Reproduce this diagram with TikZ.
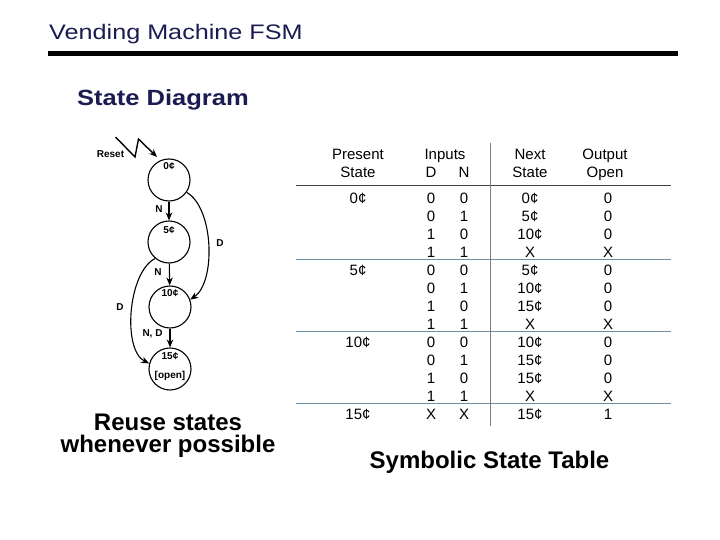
\documentclass[tikz,border=0pt]{standalone}
\usepackage{graphicx}
\usepackage{fontspec}
\setmainfont{Liberation Sans}
\usetikzlibrary{arrows.meta}
\definecolor{navy}{RGB}{28,28,82}
\definecolor{sepblue}{RGB}{105,145,165}
\begin{document}
\begin{tikzpicture}[x=1pt,y=-1pt,
  fsmstate/.style={circle, draw, line width=1.1pt, minimum size=42pt, inner sep=0pt},
  lbl/.style={font=\fontsize{10}{12}\selectfont\bfseries, inner sep=0pt},
  tr/.style={-{Stealth[length=8pt,width=6.5pt]}, line width=1.1pt},
  cell/.style={font=\fontsize{15}{18}\selectfont, anchor=base, inner sep=0pt},
  big/.style={font=\fontsize{24}{28}\selectfont\bfseries, anchor=base, inner sep=0pt}]
\useasboundingbox (0,0) rectangle (720,540);
\fill[white] (0,0) rectangle (720,540);

% title
\node[anchor=base west, inner sep=0pt, text=navy, font=\fontsize{21}{25}\selectfont] (title) at (49,40) {\scalebox{1.2}[1]{Vending Machine FSM}};
\fill[black] (48,51.5) rectangle (678,56.5);

\node[anchor=base west, inner sep=0pt, text=navy, font=\fontsize{22}{26}\selectfont\bfseries] (sd) at (77,106) {\scalebox{1.16}[1]{State Diagram}};

% state diagram
\node[fsmstate] (s0) at (169,180) {};
\node[fsmstate] (s5) at (169,242) {};
\node[fsmstate] (s10) at (170,307) {};
\node[fsmstate] (s15) at (170,369) {};
\node[lbl] (l0) at (169,166) {0¢};
\node[lbl] (l5) at (169,230) {5¢};
\node[lbl] (l10) at (170,293) {10¢};
\node[lbl] (l15) at (170,356) {15¢};
\node[lbl] (lopen) at (170,376) {[open]};

\draw[tr] (s0) -- (s5);
\draw[tr] (s5) -- (s10);
\draw[tr] (s10) -- (s15);
\draw[tr] (s0.-35) .. controls (214,208) and (216,282) .. (s10.20);
\draw[tr] (s5.-130) .. controls (128,272) and (122,350) .. (s15.165);

\node[lbl] (n1) at (159,209) {N};
\node[lbl] (n2) at (158,272) {N};
\node[lbl] (nd) at (152.5,334) {N, D};
\node[lbl] (d1) at (220,243) {D};
\node[lbl] (d2) at (120,307) {D};

\coordinate (rz) at (115.5,137);
\coordinate (rend) at (157,157);
\node[lbl] (reset) at (110.5,154) {Reset};
\draw[tr, line width=1.4pt] (rz) -- (135,157) -- (138.5,139) -- (rend);

\node[big] (r1) at (168,430) {Reuse states};
\node[big] (r2) at (168,452) {whenever possible};

% table
\draw[black!75, line width=0.9pt] (296,185.5) -- (671,185.5);
\foreach \yy in {259.5,331.5,403.5} \draw[sepblue, line width=1pt] (296,\yy) -- (671,\yy);
\draw[gray, line width=0.9pt] (490,143) -- (490,426);

\node[cell] (hp1) at (358,159.4) {Present};
\node[cell] (hp2) at (358,177.4) {State};
\node[cell] (hi1) at (445,159.4) {Inputs};
\node[cell] (hd) at (431,177.4) {D};
\node[cell] (hn) at (464,177.4) {N};
\node[cell] (hn1) at (530,159.4) {Next};
\node[cell] (hn2) at (530,177.4) {State};
\node[cell] (ho1) at (605,159.4) {Output};
\node[cell] (ho2) at (605,177.4) {Open};

\node[cell] (p0) at (358,203.4) {0¢};
\node[cell] (p5) at (358,275.4) {5¢};
\node[cell] (p10) at (358,347.4) {10¢};
\node[cell] (p15) at (358,419.4) {15¢};

\foreach \r/\d/\n/\s/\o in {0/0/0/0¢/0, 1/0/1/5¢/0, 2/1/0/10¢/0, 3/1/1/X/X,
  4/0/0/5¢/0, 5/0/1/10¢/0, 6/1/0/15¢/0, 7/1/1/X/X,
  8/0/0/10¢/0, 9/0/1/15¢/0, 10/1/0/15¢/0, 11/1/1/X/X, 12/X/X/15¢/1}{
  \node[cell] (d\r) at (431,203.4+18*\r) {\d};
  \node[cell] (n\r) at (464,203.4+18*\r) {\n};
  \node[cell] (s\r) at (530,203.4+18*\r) {\s};
  \node[cell] (o\r) at (608,203.4+18*\r) {\o};
}

\node[big] (st) at (489.5,468) {Symbolic State Table};
\end{tikzpicture}
\end{document}
